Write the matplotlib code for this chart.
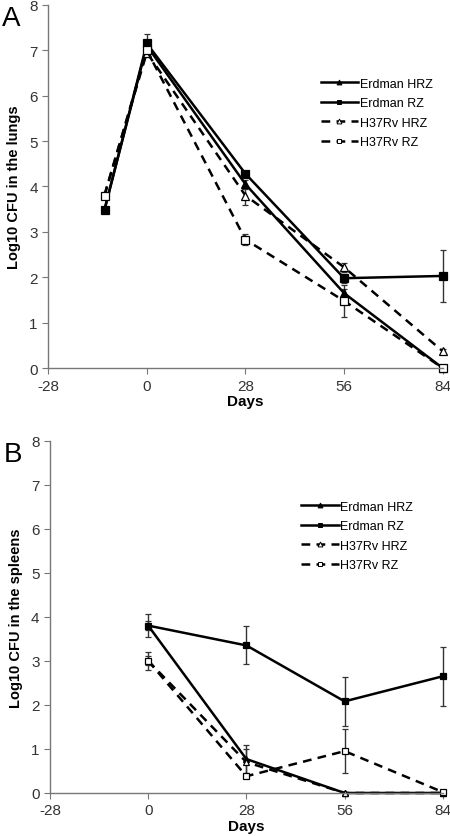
import matplotlib
matplotlib.use("Agg")
import matplotlib.pyplot as plt
from matplotlib.lines import Line2D

plt.rcParams['font.family'] = ['Liberation Sans', 'DejaVu Sans']
plt.rcParams['axes.unicode_minus'] = False

# series names, styles picked per name below
names = ["Erdman HRZ", "Erdman RZ", "H37Rv HRZ", "H37Rv RZ"]

# panel A - lungs
lung_days = [-12, 0, 28, 56, 84]
lung_erd_hrz = [3.5, 7.1, 4.05, 1.65, 0.0]
lung_erd_hrz_err = [0.05, 0.1, 0.1, 0.1, 0.0]
lung_erd_rz = [3.48, 7.15, 4.28, 1.98, 2.03]
lung_erd_rz_err = [0.05, 0.2, 0.05, 0.1, 0.57]
lung_h37_hrz = [3.82, 6.95, 3.8, 2.22, 0.37]
lung_h37_hrz_err = [0.05, 0.1, 0.2, 0.1, 0.05]
lung_h37_rz = [3.8, 7.0, 2.83, 1.48, 0.0]
lung_h37_rz_err = [0.05, 0.1, 0.12, 0.35, 0.0]

# panel B - spleens
spl_days = [0, 28, 56, 84]
spl_erd_hrz = [3.8, 0.77, 0.0, 0.0]
spl_erd_hrz_err = [0.1, 0.32, 0.0, 0.0]
spl_erd_rz = [3.8, 3.35, 2.08, 2.65]
spl_erd_rz_err = [0.27, 0.43, 0.56, 0.67]
spl_h37_hrz = [3.0, 0.7, 0.0, 0.0]
spl_h37_hrz_err = [0.1, 0.3, 0.0, 0.0]
spl_h37_rz = [3.0, 0.38, 0.95, 0.02]
spl_h37_rz_err = [0.21, 0.05, 0.5, 0.0]

styles = {
	"Erdman HRZ": dict(ls="-", marker="^", mfc="black"),
	"Erdman RZ": dict(ls="-", marker="s", mfc="black"),
	"H37Rv HRZ": dict(ls=(0, (3.5, 2.5)), marker="^", mfc="white"),
	"H37Rv RZ": dict(ls=(0, (3.5, 2.5)), marker="s", mfc="white"),
}


def panel(ax, days, series, ylabel, letter, ms, leg_anchor):
	handles = []
	for name, (vals, errs) in zip(names, series):
		st = styles[name]
		ax.errorbar(days, vals, yerr=errs, color="black", lw=1.8, ls=st["ls"],
			marker=st["marker"], mfc=st["mfc"], mec="black", ms=ms,
			mew=0.9, ecolor="#333333", elinewidth=1.0, capsize=2.5, capthick=1.0,
			clip_on=False)
		handles.append(Line2D([], [], color="black", lw=1.8, ls=st["ls"], marker=st["marker"],
			mfc=st["mfc"], mec="black", ms=3.5, mew=0.7, label=name))
	ax.set_xlim(-28, 84)
	ax.set_ylim(0, 8)
	ax.set_xticks([-28, 0, 28, 56, 84])
	ax.set_yticks(range(0, 9))
	for s in ["top", "right"]:
		ax.spines[s].set_visible(False)
	for s in ["left", "bottom"]:
		ax.spines[s].set_color("#777777")
		ax.spines[s].set_linewidth(1.0)
	ax.tick_params(direction="out", length=4, color="#777777", labelsize=11, labelcolor="#333333")
	ax.set_xlabel("Days", fontsize=11, fontweight="bold", labelpad=1)
	ax.set_ylabel(ylabel, fontsize=10.5, fontweight="bold", labelpad=6)
	ax.text(-0.118, 1.0, letter, transform=ax.transAxes, fontsize=20, va="top", ha="left")
	ax.legend(handles=handles, loc="upper right", bbox_to_anchor=leg_anchor, frameon=False,
		fontsize=9, handlelength=3.0, labelspacing=0.6, handletextpad=0.15,
		borderaxespad=0, borderpad=0)


fig = plt.figure(figsize=(4.5, 8.37), dpi=100)
axA = fig.add_axes([0.107, 0.559, 0.877, 0.434])
axB = fig.add_axes([0.111, 0.0514, 0.873, 0.421])

panel(axA, lung_days, [(lung_erd_hrz, lung_erd_hrz_err), (lung_erd_rz, lung_erd_rz_err),
	(lung_h37_hrz, lung_h37_hrz_err), (lung_h37_rz, lung_h37_rz_err)],
	"Log10 CFU in the lungs", "A", 6, (0.975, 0.8))
panel(axB, spl_days, [(spl_erd_hrz, spl_erd_hrz_err), (spl_erd_rz, spl_erd_rz_err),
	(spl_h37_hrz, spl_h37_hrz_err), (spl_h37_rz, spl_h37_rz_err)],
	"Log10 CFU in the spleens", "B", 4.5, (0.925, 0.83))

fig.savefig("out.png", dpi=100)
